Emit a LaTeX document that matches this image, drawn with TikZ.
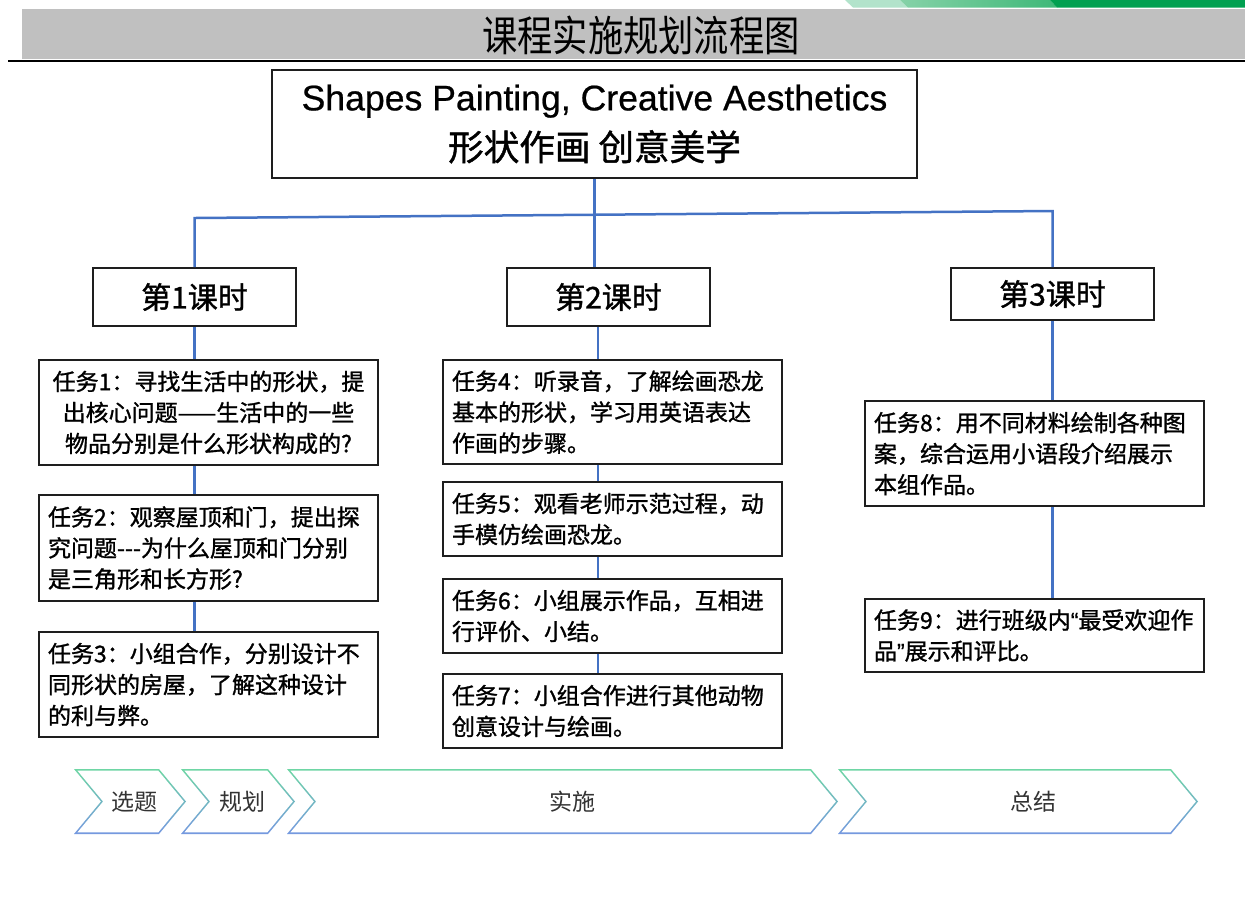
\documentclass[tikz,border=0pt]{standalone}
\usepackage{fontspec}
\setmainfont{Liberation Sans}
\newfontfamily\cjk{Noto Sans CJK SC}
\newfontfamily\cjkb[FakeBold=1.2]{Noto Sans CJK SC}
\newfontfamily\cjktitle[FakeStretch=0.84]{Noto Sans CJK SC}
\newfontfamily\latin{Liberation Sans}
\newfontfamily\latinb[FakeBold=0.6]{Liberation Sans}
\definecolor{barGray}{HTML}{C0C0C0}
\definecolor{linkBlue}{HTML}{4472C4}
\definecolor{boxLine}{HTML}{1E1E1E}
\definecolor{chevGreen}{HTML}{6ED6A4}
\definecolor{chevBlue}{HTML}{7598E0}
\definecolor{stripLight}{HTML}{B2E3CB}
\definecolor{stripMidA}{HTML}{86D2A8}
\definecolor{stripMidB}{HTML}{3EB878}
\definecolor{stripDark}{HTML}{00A050}
\begin{document}
\begin{tikzpicture}[x=0.5pt,y=-0.5pt,
  box/.style={draw=boxLine, line width=1pt, fill=white, inner sep=0pt},
  lesson/.style={box, minimum width=101.5pt, minimum height=29pt, font=\cjkb\fontsize{15pt}{18pt}\selectfont},
  task/.style={box, minimum width=169.5pt, text width=160.5pt, inner xsep=4.5pt, align=left, font=\cjkb\fontsize{11.5pt}{15.5pt}\selectfont},
  link/.style={draw=linkBlue, line width=1.25pt},
  stagelabel/.style={font=\cjk\fontsize{11.5pt}{14pt}\selectfont, text=black!80},
]
\useasboundingbox (0,0) rectangle (1245,896);
\fill[white] (0,0) rectangle (1245,896);
% top strip
\fill[stripLight] (845,0) -- (900,0) -- (908,7.5) -- (853,7.5) -- cycle;
\shade[left color=stripMidA, right color=stripMidB] (900,0) -- (1050,0) -- (1057,7.5) -- (908,7.5) -- cycle;
\fill[stripDark] (1050,0) -- (1245,0) -- (1245,7.5) -- (1057,7.5) -- cycle;
% title bar
\fill[barGray] (22,8.5) rectangle (1245,58.5);
\draw[line width=1pt, black] (8,61) -- (1245,61);
\node[font=\cjktitle\fontsize{21pt}{24pt}\selectfont] (title) at (641,35) {课程实施规划流程图};

% main box
\node[box, minimum width=322.5pt, minimum height=54pt, align=center, font=\latinb\fontsize{17.8pt}{25pt}\selectfont] (top) at (594.5,124)
  {Shapes Painting, Creative Aesthetics\\{\cjkb 形状作画 创意美学}};

% lessons
\node[lesson] (b1) at (194.5,297) {第1课时};
\node[lesson] (b2) at (608.5,297) {第2课时};
\node[lesson, minimum height=26pt] (b3) at (1052.5,294) {第3课时};

% tasks
\node[task, align=center, minimum height=52.5pt] (t1) at (208.5,412.5)
  {任务1：寻找生活中的形状，提\\出核心问题——生活中的一些\\物品分别是什么形状构成的?};
\node[task, minimum height=53pt] (t2) at (208.5,548)
  {任务2：观察屋顶和门，提出探\\究问题{-}{-}{-}为什么屋顶和门分别\\是三角形和长方形?};
\node[task, minimum height=52.5pt] (t3) at (208.5,684.5)
  {任务3：小组合作，分别设计不\\同形状的房屋，了解这种设计\\的利与弊。};
\node[task, minimum height=52pt] (t4) at (612.5,412)
  {任务4：听录音，了解绘画恐龙\\基本的形状，学习用英语表达\\作画的步骤。};
\node[task, minimum height=37pt] (t5) at (612.5,519)
  {任务5：观看老师示范过程，动\\手模仿绘画恐龙。};
\node[task, minimum height=37pt] (t6) at (612.5,616)
  {任务6：小组展示作品，互相进\\行评价、小结。};
\node[task, minimum height=37pt] (t7) at (612.5,711)
  {任务7：小组合作进行其他动物\\创意设计与绘画。};
\node[task, minimum height=52.5pt] (t8) at (1034.5,453.5)
  {任务8：用不同材料绘制各种图\\案，综合运用小语段介绍展示\\本组作品。};
\node[task, minimum height=36.5pt] (t9) at (1034.5,635.5)
  {任务9：进行班级内{\latinb “}最受欢迎作\\品{\latinb ”}展示和评比。};

% connectors
\coordinate (hl) at (193,218);
\coordinate (hr) at (1053,211);
\coordinate (c2) at (598,326);
\draw[link] (b1.north) -- (b1.north |- hl) -- (hr -| b3.north) -- (b3.north);
\draw[link] (top.south) -- (top.south |- b2.north);
\draw[link] (b1.south) -- (b1.south |- t1.north);
\draw[link] (b1.south |- t1.south) -- (b1.south |- t2.north);
\draw[link] (b1.south |- t2.south) -- (b1.south |- t3.north);
\draw[link] (c2 |- b2.south) -- (c2 |- t4.north);
\draw[link] (c2 |- t4.south) -- (c2 |- t5.north);
\draw[link] (c2 |- t5.south) -- (c2 |- t6.north);
\draw[link] (c2 |- t6.south) -- (c2 |- t7.north);
\draw[link] (b3.south) -- (b3.south |- t8.north);
\draw[link] (b3.south |- t8.south) -- (b3.south |- t9.north);

% stage chevrons
\foreach \x/\xr/\lbl/\cx/\nm in {74/159/选题/134/sA, 181/268/规划/242/sB, 287/811/实施/572/sC, 838/1171/总结/1033/sD}{
  \shade[top color=chevGreen, bottom color=chevBlue] (\x,769) -- (\xr,769) -- (\xr+27,801.5) -- (\xr,834) -- (\x,834) -- (\x+27,801.5) -- cycle;
  \fill[white] (\x+3.4,770.6) -- (\xr-0.8,770.6) -- (\xr+24.9,801.5) -- (\xr-0.8,832.4) -- (\x+3.4,832.4) -- (\x+29.1,801.5) -- cycle;
  \node[stagelabel] (\nm) at (\cx,801.5) {\lbl};
}
\end{tikzpicture}
\end{document}
